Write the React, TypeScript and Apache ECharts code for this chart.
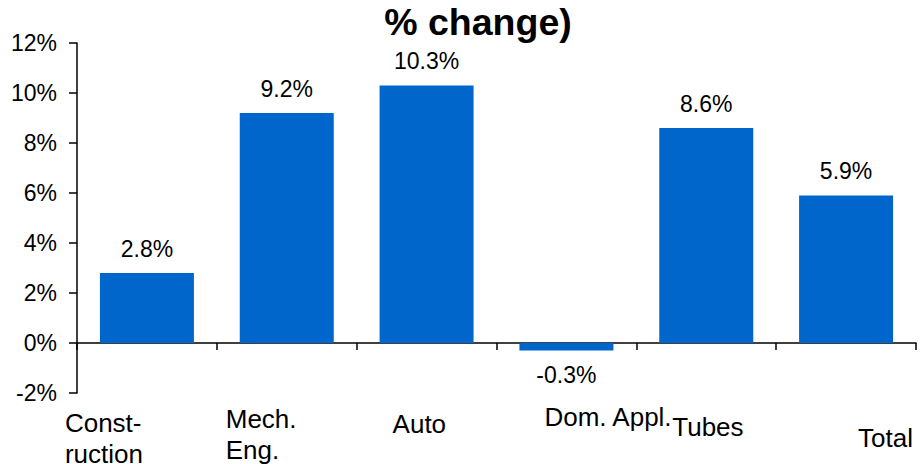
import React, { useEffect, useRef } from "react";
import * as echarts from "echarts";

// Sector growth, % change
const categories = ["Const-\nruction", "Mech.\nEng.", "Auto", "Dom. Appl.", "Tubes", "Total"];
const values = [2.8, 9.2, 10.3, -0.3, 8.6, 5.9];
const yMin = -2;
const yMax = 12;
const yStep = 2;
const titleText = "% change)";

// Per-label offsets of the category captions: [top, left] relative to the label anchor
const labelOffsets: [number, number][] = [
  [14, -82],
  [10, -61],
  [15, -34],
  [8, -22],
  [18, -34],
  [29, 12],
];

const FONT = "'Liberation Sans', Arial, Helvetica, sans-serif";
const BLUE = "#0066CC";

export default function App() {
  const ref = useRef<HTMLDivElement>(null);

  useEffect(() => {
    if (!ref.current) return;
    const chart = echarts.init(ref.current, undefined, { renderer: "svg" });

    const xData = categories.map((c, i) => ({
      value: c,
      textStyle: {
        align: "left",
        verticalAlign: "top",
        padding: [labelOffsets[i][0], 0, 0, labelOffsets[i][1]],
      },
    }));

    const barData = values.map((v) => ({
      value: v,
      label: { position: v < 0 ? "bottom" : "top" },
    }));

    chart.setOption({
      animation: false,
      backgroundColor: "#ffffff",
      textStyle: { fontFamily: FONT, color: "#000" },
      title: {
        text: titleText,
        left: 478,
        top: 3,
        padding: 0,
        textAlign: "center",
        textStyle: { fontFamily: FONT, fontSize: 37.5, fontWeight: "bold", color: "#000" },
      },
      grid: { left: 77, right: 6, top: 43, bottom: 71, containLabel: false, outerBoundsMode: "none" },
      xAxis: {
        type: "category",
        data: xData,
        axisLine: { onZero: true, lineStyle: { color: "#000", width: 1.5 } },
        axisTick: { show: true, length: 7, inside: false, alignWithLabel: false, lineStyle: { color: "#000", width: 1.5 } },
        axisLabel: {
          interval: 0,
          margin: 0,
          fontSize: 26,
          lineHeight: 31,
          fontFamily: FONT,
          color: "#000",
          hideOverlap: false,
        },
        splitLine: { show: false },
      },
      yAxis: {
        type: "value",
        min: yMin,
        max: yMax,
        interval: yStep,
        axisLine: { show: true, lineStyle: { color: "#000", width: 1.5 } },
        axisTick: { show: true, length: 8, inside: false, lineStyle: { color: "#000", width: 1.5 } },
        axisLabel: {
          margin: 20,
          fontSize: 23,
          fontFamily: FONT,
          color: "#000",
          formatter: (v: number) => `${v}%`,
        },
        splitLine: { show: false },
      },
      series: [
        {
          type: "bar",
          data: barData,
          barWidth: 94,
          itemStyle: { color: BLUE },
          label: {
            show: true,
            distance: 13,
            fontSize: 23,
            fontFamily: FONT,
            color: "#000",
            formatter: (p: any) => `${Number(p.value).toFixed(1)}%`,
          },
        },
      ],
    });

    return () => chart.dispose();
  }, []);

  return (
    <div
      ref={ref}
      style={{ position: "absolute", left: 0, top: 0, width: 922, height: 464, background: "#fff" }}
    />
  );
}
